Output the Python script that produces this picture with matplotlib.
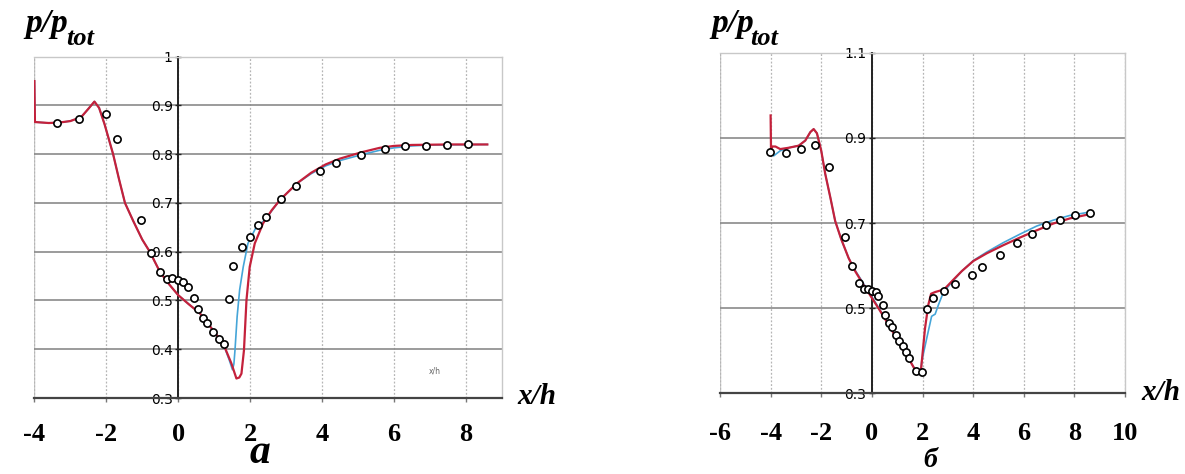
import matplotlib
matplotlib.use("Agg")
import matplotlib.pyplot as plt

# --- panel a: experiment (circles) and two calculations (blue, red)
a_exp_x = [-3.38, -2.76, -2.01, -1.71, -1.04, -0.77, -0.50, -0.31, -0.16, 0.0, 0.14, 0.26,
           0.43, 0.55, 0.68, 0.81, 0.97, 1.13, 1.28, 1.40, 1.53, 1.77, 1.99, 2.22, 2.44,
           2.85, 3.29, 3.95, 4.38, 5.09, 5.76, 6.31, 6.90, 7.49, 8.06]
a_exp_y = [0.865, 0.872, 0.882, 0.831, 0.665, 0.598, 0.559, 0.544, 0.547, 0.542, 0.537, 0.527,
           0.506, 0.482, 0.465, 0.454, 0.435, 0.421, 0.411, 0.503, 0.571, 0.609, 0.631, 0.655, 0.672,
           0.708, 0.735, 0.766, 0.781, 0.798, 0.810, 0.816, 0.817, 0.818, 0.820]

a_red_x = [-4.0, -3.985, -3.6, -3.3, -3.0, -2.7, -2.5, -2.33, -2.2, -2.05, -1.81, -1.65, -1.48,
           -1.25, -1.0, -0.79, -0.51, -0.25, 0.0, 0.3, 0.6, 0.97, 1.25, 1.48, 1.62, 1.7, 1.76,
           1.83, 1.9, 1.99, 2.13, 2.36, 2.6, 2.83, 3.3, 3.7, 4.1, 4.5, 5.1, 5.6, 6.0, 6.5, 7.5, 8.6]
a_red_y = [0.950, 0.866, 0.864, 0.865, 0.868, 0.876, 0.893, 0.908, 0.895, 0.862, 0.800, 0.750, 0.700,
           0.663, 0.625, 0.600, 0.559, 0.533, 0.511, 0.492, 0.474, 0.439, 0.412, 0.371, 0.340, 0.342, 0.350,
           0.398, 0.501, 0.569, 0.617, 0.658, 0.685, 0.706, 0.740, 0.762, 0.779, 0.791, 0.804, 0.813,
           0.817, 0.819, 0.820, 0.820]

a_blue_x = [-4.0, -3.985, -3.6, -3.3, -3.0, -2.7, -2.5, -2.33, -2.2, -2.05, -1.81, -1.65, -1.48,
            -1.25, -1.0, -0.79, -0.51, -0.25, 0.0, 0.3, 0.6, 0.97, 1.25, 1.42, 1.51, 1.55, 1.58,
            1.64, 1.71, 1.81, 1.94, 2.18, 2.4, 2.83, 3.3, 3.7, 4.1, 4.5, 5.1, 5.6, 6.0, 6.5, 7.0, 8.6]
a_blue_y = [0.950, 0.866, 0.864, 0.865, 0.868, 0.876, 0.893, 0.908, 0.895, 0.862, 0.800, 0.750, 0.700,
            0.663, 0.625, 0.600, 0.559, 0.533, 0.511, 0.492, 0.474, 0.439, 0.412, 0.378, 0.358, 0.370,
            0.398, 0.467, 0.522, 0.569, 0.617, 0.652, 0.664, 0.706, 0.740, 0.760, 0.776, 0.787, 0.799,
            0.808, 0.813, 0.817, 0.819, 0.820]

# --- panel б
b_exp_x = [-4.04, -3.39, -2.79, -2.24, -1.71, -1.05, -0.79, -0.50, -0.30, -0.16, 0.0, 0.16, 0.26,
           0.42, 0.53, 0.66, 0.79, 0.95, 1.08, 1.21, 1.34, 1.47, 1.75, 1.97, 2.19, 2.40, 2.85,
           3.29, 3.94, 4.36, 5.06, 5.74, 6.31, 6.86, 7.45, 8.03, 8.61]
b_exp_y = [0.866, 0.865, 0.873, 0.883, 0.832, 0.667, 0.599, 0.559, 0.544, 0.546, 0.541, 0.538, 0.528,
           0.507, 0.483, 0.465, 0.456, 0.436, 0.423, 0.410, 0.397, 0.382, 0.353, 0.349, 0.499, 0.524, 0.540,
           0.556, 0.579, 0.597, 0.625, 0.654, 0.675, 0.696, 0.707, 0.718, 0.724]

b_red_x = [-4.0, -3.985, -3.94, -3.81, -3.62, -3.29, -2.89, -2.63, -2.43, -2.30, -2.17, -2.0, -1.84,
           -1.64, -1.45, -1.21, -0.92, -0.66, -0.33, 0.0, 0.26, 0.66, 1.05, 1.45, 1.71, 1.93, 2.10,
           2.23, 2.34, 2.50, 2.85, 3.22, 3.55, 4.01, 4.54, 5.19, 5.85, 6.51, 7.17, 7.82, 8.61]
b_red_y = [0.953, 0.872, 0.880, 0.880, 0.874, 0.877, 0.882, 0.894, 0.914, 0.921, 0.911, 0.870, 0.815,
           0.760, 0.705, 0.662, 0.618, 0.587, 0.555, 0.524, 0.500, 0.461, 0.422, 0.382, 0.355, 0.349, 0.453,
           0.508, 0.534, 0.538, 0.544, 0.567, 0.587, 0.611, 0.629, 0.648, 0.666, 0.683, 0.699, 0.711, 0.721]

b_blue_x = [-4.0, -3.88, -3.62, -3.29, -2.89, -2.63, -2.43, -2.30, -2.17, -2.0, -1.84, -1.64, -1.45,
            -1.21, -0.92, -0.66, -0.33, 0.0, 0.26, 0.66, 1.05, 1.45, 1.71, 1.93, 1.97, 2.17, 2.36,
            2.50, 2.63, 2.83, 3.22, 3.55, 4.01, 4.54, 5.19, 5.85, 6.51, 7.17, 7.82, 8.61]
b_blue_y = [0.866, 0.858, 0.870, 0.877, 0.882, 0.894, 0.914, 0.921, 0.911, 0.870, 0.815, 0.760, 0.705,
            0.662, 0.618, 0.589, 0.558, 0.527, 0.502, 0.462, 0.422, 0.382, 0.355, 0.349, 0.375, 0.430, 0.481,
            0.486, 0.508, 0.538, 0.565, 0.587, 0.612, 0.632, 0.654, 0.674, 0.693, 0.707, 0.718, 0.726]

a_xlim = [-4, 9]
a_ylim = [0.3, 1.0]
a_xticks = [-4, -2, 0, 2, 4, 6, 8]
a_yticks = [0.3, 0.4, 0.5, 0.6, 0.7, 0.8, 0.9, 1.0]
a_ylabels = ["0.3", "0.4", "0.5", "0.6", "0.7", "0.8", "0.9", "1"]

b_xlim = [-6, 10]
b_ylim = [0.3, 1.1]
b_xticks = [-6, -4, -2, 0, 2, 4, 6, 8, 10]
b_yticks = [0.3, 0.5, 0.7, 0.9, 1.1]
b_ylabels = ["0.3", "0.5", "0.7", "0.9", "1.1"]

RED = "#c4213b"
BLUE = "#45a5d8"
SERIF = "Liberation Serif"
W, H = 1185, 474

fig = plt.figure(figsize=(11.85, 4.74), dpi=100)


def setup(ax, xlim, ylim, xticks, yticks, ylabels, pad):
    ax.set_xlim(xlim)
    ax.set_ylim(ylim)
    ax.set_xticks(xticks)
    ax.set_xticklabels([str(t) for t in xticks], fontfamily=SERIF, fontweight="bold", fontsize=19)
    ax.set_yticks(yticks)
    ax.set_yticklabels(ylabels, fontsize=7.5, color="#666666")
    ax.tick_params(axis="x", length=3, width=1, color="#777777", pad=pad)
    ax.tick_params(axis="y", direction="inout", length=4, width=1, color="#222222", pad=2)
    ax.spines["left"].set_position(("data", 0))
    ax.spines["left"].set_color("#222222")
    ax.spines["left"].set_linewidth(1.4)
    ax.spines["bottom"].set_color("#444444")
    ax.spines["bottom"].set_linewidth(1.6)
    for s in ("top", "right"):
        ax.spines[s].set_color("#c8c8c8")
        ax.spines[s].set_linewidth(1.0)
    ax.axvline(xlim[0], color="#c8c8c8", lw=1.0, zorder=0)
    ax.grid(axis="y", color="#8a8a8a", lw=1.2, ls="-", zorder=0)
    ax.grid(axis="x", color="#b5b5b5", lw=0.9, ls=(0, (1.5, 1.5)), zorder=0)
    ax.set_axisbelow(True)


# panel a
ax1 = fig.add_axes([34.4 / W, 1 - 398 / H, (501.7 - 34.4) / W, (398 - 56.7) / H])
setup(ax1, a_xlim, a_ylim, a_xticks, a_yticks, a_ylabels, 15)
ax1.plot(a_blue_x, a_blue_y, color=BLUE, lw=1.2, zorder=3)
ax1.plot(a_red_x, a_red_y, color=RED, lw=1.6, zorder=4)
ax1.plot(a_exp_x, a_exp_y, "o", ms=5.2, mfc="white", mec="black", mew=1.2, zorder=5)
ax1.text(435 / W, 1 - 371 / H, "x/h", transform=fig.transFigure, fontsize=5.5,
         color="#666666", ha="center", va="center")

# panel б
ax2 = fig.add_axes([720 / W, 1 - 393.3 / H, (1125 - 720) / W, (393.3 - 52.9) / H])
setup(ax2, b_xlim, b_ylim, b_xticks, b_yticks, b_ylabels, 18)
ax2.plot(b_blue_x, b_blue_y, color=BLUE, lw=1.2, zorder=3)
ax2.plot(b_red_x, b_red_y, color=RED, lw=1.6, zorder=4)
ax2.plot(b_exp_x, b_exp_y, "o", ms=5.2, mfc="white", mec="black", mew=1.2, zorder=5)

# labels
lab = dict(fontfamily=SERIF, fontweight="bold", fontstyle="italic")
for x0, xt in ((25, 66), (711, 750)):
    fig.text(x0 / W, 1 - 32 / H, "p/p", fontsize=24, ha="left", va="baseline", **lab)
    fig.text(xt / W, 1 - 45 / H, "tot", fontsize=19, ha="left", va="baseline", **lab)
fig.text(537 / W, 1 - 396 / H, "x/h", fontsize=21, ha="center", va="center", **lab)
fig.text(1161 / W, 1 - 393 / H, "x/h", fontsize=21, ha="center", va="center", **lab)
fig.text(260 / W, 1 - 472 / H, "a", fontsize=30, ha="center", va="bottom", **lab)
fig.text(930 / W, 1 - 473 / H, "б", fontsize=20, ha="center", va="bottom", **lab)

fig.savefig("out.png", dpi=100)
